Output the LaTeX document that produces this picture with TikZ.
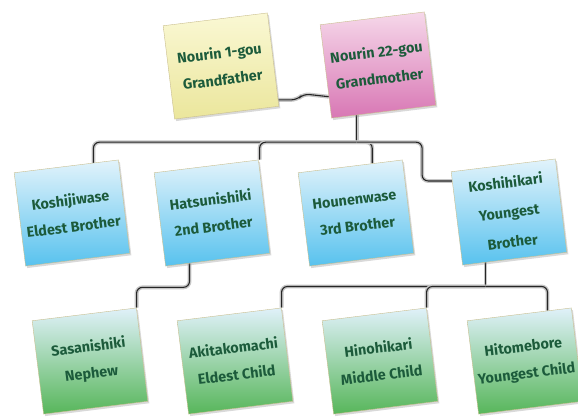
\documentclass[tikz,border=0pt]{standalone}
\usepackage{fontspec}
\setmainfont{Fira Sans}
\usetikzlibrary{calc,shadows,backgrounds}

\definecolor{notetext}{HTML}{1C5B3B}
\definecolor{notebrd}{HTML}{C9BE8E}
\definecolor{yellowtop}{HTML}{FAF8D4}
\definecolor{yellowbot}{HTML}{EBE69C}
\definecolor{pinktop}{HTML}{F6D8EA}
\definecolor{pinkbot}{HTML}{D877B4}
\definecolor{bluetop}{HTML}{E2F3FB}
\definecolor{bluebot}{HTML}{58C2EE}
\definecolor{greentop}{HTML}{E0F1FA}
\definecolor{greenmid}{HTML}{A6D9A4}
\definecolor{greenbot}{HTML}{57B65A}

\begin{document}
\begin{tikzpicture}
[
	x=1bp, y=-1bp,
	note/.style={draw=notebrd,thin,rotate=7,minimum width=105bp,minimum height=94bp,
		align=center,text=notetext,font=\fontsize{14.5}{27}\selectfont\bfseries,
		drop shadow={shadow xshift=1.5pt,shadow yshift=-2pt,opacity=0.3}},
	grandpa/.style={note,top color=yellowtop,bottom color=yellowbot},
	grandma/.style={note,top color=pinktop,bottom color=pinkbot},
	brother/.style={note,top color=bluetop,bottom color=bluebot},
	child/.style={note,top color=greentop,middle color=greenmid,bottom color=greenbot},
	pipe/.style={draw=gray!45,line width=1.4pt,double=black!85,double distance=1.1pt,rounded corners=6pt}
]

	\useasboundingbox (0,0) rectangle (578,416);

	% grandparents
	\node[grandpa] (gf) at (221,66) {Nourin 1-gou\\Grandfather};
	\node[grandma] (gm) at (378,65) {Nourin 22-gou\\Grandmother};

	% brothers
	\node[brother] (kosj) at (72,213) {Koshijiwase\\Eldest Brother};
	\node[brother] (hats) at (212,213) {Hatsunishiki\\2nd Brother};
	\node[brother] (houn) at (356,213) {Hounenwase\\3rd Brother};
	\node[brother,font=\fontsize{14.5}{30}\selectfont\bfseries] (kosh) at (509,212) {Koshihikari\\Youngest\\Brother};

	% children
	\node[child] (sasa) at (90,361) {Sasanishiki\\Nephew};
	\node[child] (akit) at (235,361) {Akitakomachi\\Eldest Child};
	\node[child] (hino) at (380,361) {Hinohikari\\Middle Child};
	\node[child] (hito) at (525,361) {Hitomebore\\Youngest Child};

	\begin{scope}[on background layer]
		% couple
		\draw[pipe] ($(gf.south east)!0.07!(gf.north east)$) -- ++(19,0) -- ++(6,-6)
			-- ($(gm.south west)!0.23!(gm.north west)$);

		% first generation
		\coordinate (upbus) at ($(gm.south west)!0.24!(gm.south east)$);
		\path (upbus) ++(0,27) coordinate (upjoin);
		\draw[pipe] (upbus) -- (upjoin);
		\draw[pipe] ($(kosj.north west)!0.76!(kosj.north east)$) |- (upjoin);
		\draw[pipe] ($(hats.north west)!1.01!(hats.north east)$) |- (upjoin);
		\draw[pipe] ($(houn.north west)!0.71!(houn.north east)$) |- (upjoin);
		\draw[pipe] ($(kosh.north west)!0.1!(kosh.south west)$) -- ++(-30,0) |- (upjoin);

		% nephew
		\draw[pipe] ($(hats.south west)!0.23!(hats.south east)$) -- ++(0,24)
			-| (sasa.north east);

		% second generation
		\coordinate (lowbus) at ($(kosh.south west)!0.22!(kosh.south east)$);
		\path (lowbus) ++(0,24) coordinate (lowjoin);
		\draw[pipe] (lowbus) -- (lowjoin);
		\draw[pipe] (akit.north east) |- (lowjoin);
		\draw[pipe] (hino.north east) |- (lowjoin);
		\draw[pipe] ($(hito.north west)!0.77!(hito.north east)$) |- (lowjoin);
	\end{scope}

\end{tikzpicture}
\end{document}
